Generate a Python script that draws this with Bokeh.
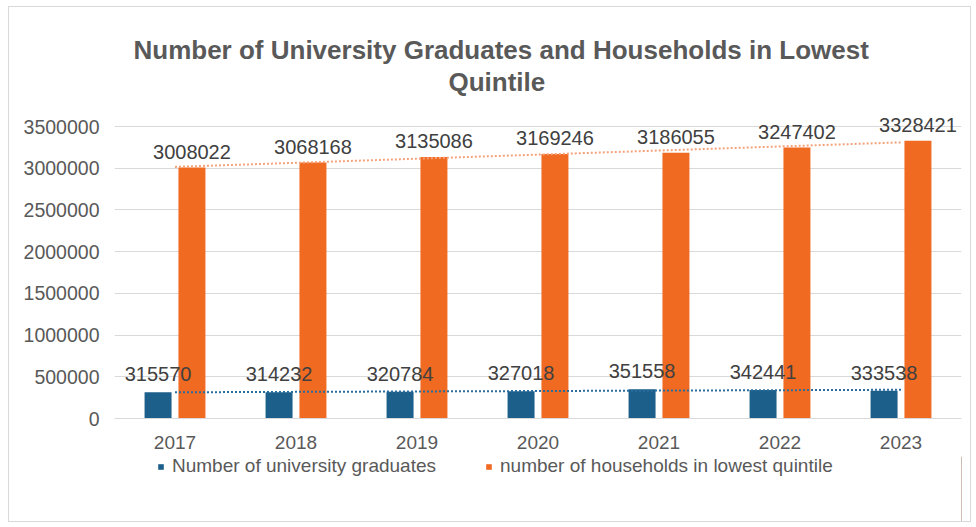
import numpy as np
from bokeh.plotting import figure
from bokeh.layouts import column
from bokeh.models import (ColumnDataSource, FactorRange, Range1d, FixedTicker, Title,
                          Legend, LegendItem, BasicTickFormatter)
from bokeh.transform import dodge
from bokeh.embed import file_html
from bokeh.resources import INLINE

years = ["2017", "2018", "2019", "2020", "2021", "2022", "2023"]
graduates = [315570, 314232, 320784, 327018, 351558, 342441, 333538]
households = [3008022, 3068168, 3135086, 3169246, 3186055, 3247402, 3328421]
y_ticks = [0, 500000, 1000000, 1500000, 2000000, 2500000, 3000000, 3500000]
title_line1 = "Number of University Graduates and Households in Lowest"
title_line2 = "Quintile"
legend_grad = "Number of university graduates"
legend_house = "number of households in lowest quintile"

BLUE = "#1c5f8b"
ORANGE = "#f06a22"
FONT = "Liberation Sans"
GREY = "#595959"

# linear trendlines (as Excel computes them) from the data
xs = np.arange(1, len(years) + 1)
g_fit = np.polyfit(xs, graduates, 1)
h_fit = np.polyfit(xs, households, 1)
g_trend = [float(v) for v in np.polyval(g_fit, xs)]
h_trend = [float(v) for v in np.polyval(h_fit, xs)]

src = ColumnDataSource(dict(
    year=years, grad=graduates, house=households,
    grad_txt=[str(v) for v in graduates], house_txt=[str(v) for v in households],
    g_trend=g_trend, h_trend=h_trend,
))

W = 961
MAIN_H = 449
p = figure(x_range=FactorRange(factors=years, range_padding=0),
           y_range=Range1d(0, 3860000),
           width=W, height=MAIN_H, output_backend="svg", toolbar_location=None,
           min_border_left=105, min_border_right=9, min_border_top=89, min_border_bottom=38)
p.outline_line_color = None
p.background_fill_color = "white"
p.border_fill_color = "white"

# titles (later added goes above)
p.add_layout(Title(text=title_line2, align="left", text_font=FONT, text_font_size="26px",
                   text_font_style="bold", text_color=GREY, standoff=0, offset=334), "above")
p.add_layout(Title(text=title_line1, align="left", text_font=FONT, text_font_size="26px",
                   text_font_style="bold", text_color=GREY, standoff=0, offset=19), "above")

bw = 0.223
off = 0.14
r_g = p.vbar(x=dodge("year", -off, range=p.x_range), top="grad", width=bw, source=src,
             fill_color=BLUE, line_color=None)
r_h = p.vbar(x=dodge("year", off, range=p.x_range), top="house", width=bw, source=src,
             fill_color=ORANGE, line_color=None)

p.line(x="year", y="h_trend", source=src, line_color="#f4a27a", line_width=2, line_dash="2 2")
p.line(x="year", y="g_trend", source=src, line_color="#2b6e9e", line_width=2, line_dash="2 2")

p.text(x=dodge("year", -off, range=p.x_range), y="grad", text="grad_txt", source=src,
       text_align="center", text_baseline="bottom", y_offset=-11,
       text_font={"value": FONT}, text_font_size="20px", text_color="#404040")
p.text(x=dodge("year", off, range=p.x_range), y="house", text="house_txt", source=src,
       text_align="center", text_baseline="bottom", y_offset=-9,
       text_font={"value": FONT}, text_font_size="20px", text_color="#404040")

p.xgrid.grid_line_color = None
p.ygrid.grid_line_color = "#d9d9d9"
p.ygrid.grid_line_width = 1

p.yaxis.ticker = FixedTicker(ticks=y_ticks)
p.yaxis.formatter = BasicTickFormatter(use_scientific=False)
for ax in (p.xaxis, p.yaxis):
    ax.axis_line_color = None
    ax.major_tick_line_color = None
    ax.minor_tick_line_color = None
    ax.major_tick_out = 0
    ax.major_tick_in = 0
    ax.minor_tick_out = 0
    ax.major_label_text_font = FONT
    ax.major_label_text_color = GREY
p.xaxis.major_label_text_font_size = "19px"
p.yaxis.major_label_text_font_size = "19.5px"
p.xaxis.axis_line_color = "#d9d9d9"
p.yaxis.major_label_standoff = 15
p.xaxis.major_label_standoff = 17

# legend in its own strip below the chart (its frame aligns with the chart frame)
LEG_H = 65
lf = figure(width=W, height=LEG_H, output_backend="svg", toolbar_location=None,
            x_range=Range1d(0, 1), y_range=Range1d(0, 1),
            x_axis_location=None, y_axis_location=None,
            min_border=0, min_border_left=0, min_border_right=0,
            min_border_top=0, min_border_bottom=0)
lf.grid.visible = False
lf.outline_line_color = None
lf.background_fill_color = "white"
# legend swatches (placed outside the visible range)
lr_g = lf.vbar(x=[5], top=[5], width=0.1, fill_color=BLUE, line_color=None)
lr_h = lf.vbar(x=[5], top=[5], width=0.1, fill_color=ORANGE, line_color=None)
legend = Legend(items=[LegendItem(label=legend_grad, renderers=[lr_g]),
                       LegendItem(label=legend_house, renderers=[lr_h])],
                orientation="horizontal", location=(43, LEG_H - 21),
                label_text_font=FONT, label_text_font_size="19px", label_text_color=GREY,
                glyph_width=7, glyph_height=7, label_standoff=8, spacing=49,
                label_height=18, border_line_color=None, background_fill_alpha=0,
                padding=0, margin=0)
lf.add_layout(legend)

layout = column(p, lf, spacing=0, margin=(6, 0, 0, 8),
                styles={"border": "1px solid #d9d9d9", "background-color": "white"})
open("out.html", "w").write(file_html(layout, INLINE))
